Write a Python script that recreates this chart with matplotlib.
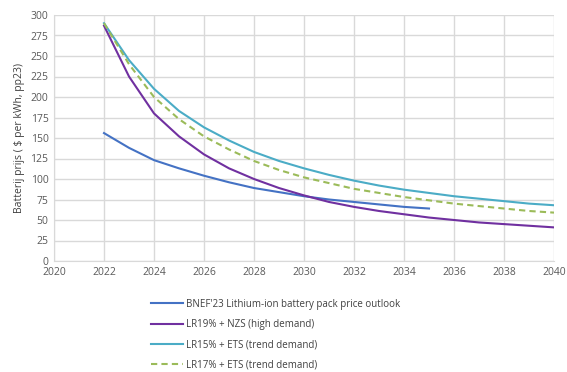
import numpy as np
import matplotlib
matplotlib.use('Agg')
import matplotlib.pyplot as plt

plt.rcParams['font.family'] = ['Open Sans', 'DejaVu Sans']

# %% data
years = list(range(2022, 2041))
bnef_years = list(range(2022, 2036))
bnef = [156, 138, 123, 113, 104, 96, 89, 84, 79, 75, 72, 69, 66, 64]
lr19_nzs = [287, 225, 180, 152, 130, 113, 100, 89, 80, 72, 66, 61, 57, 53,
            50, 47, 45, 43, 41]
lr15_ets = [290, 245, 210, 183, 163, 147, 133, 122, 113, 105, 98, 92, 87, 83,
            79, 76, 73, 70, 68]
lr17_ets = [290, 240, 200, 173, 152, 136, 122, 111, 102, 95, 88, 83, 78, 74,
            70, 67, 64, 61, 59]

labels = ["BNEF'23 Lithium-ion battery pack price outlook",
          'LR19% + NZS (high demand)',
          'LR15% + ETS (trend demand)',
          'LR17% + ETS (trend demand)']

# %% plot
fig = plt.figure(figsize=(5.67, 3.72), dpi=100)
ax = fig.add_axes([54 / 567, 1 - 261 / 372, 500 / 567, 246 / 372])

ax.plot(bnef_years, bnef, color='#4472C4', lw=1.5, label=labels[0])
ax.plot(years, lr19_nzs, color='#7030A0', lw=1.5, label=labels[1])
ax.plot(years, lr15_ets, color='#4BACC6', lw=1.5, label=labels[2])
ax.plot(years, lr17_ets, color='#9BBB59', lw=1.5, ls=(0, (3, 2)), label=labels[3])

ax.set_xlim(2020, 2040)
ax.set_ylim(0, 300)
ax.set_xticks(range(2020, 2041, 2))
ax.set_yticks(range(0, 301, 25))
ax.grid(True, color='#d9d9d9', lw=1)
ax.set_axisbelow(True)
for s in ['top', 'right']:
    ax.spines[s].set_visible(False)
for s in ['left', 'bottom']:
    ax.spines[s].set_color('#d9d9d9')
ax.tick_params(length=0, labelsize=7.5, colors='#595959', pad=4)
ax.set_ylabel('Batterij prijs ( $ per kWh, pp23)', fontsize=7.5, color='#404040')

ax.legend(loc='upper left', bbox_to_anchor=(142 / 567, 1 - 290 / 372),
          bbox_transform=fig.transFigure, frameon=False, fontsize=7,
          handlelength=3.3, labelspacing=0.95, handletextpad=0.3,
          labelcolor='#404040')

fig.savefig('out.png', dpi=100)
